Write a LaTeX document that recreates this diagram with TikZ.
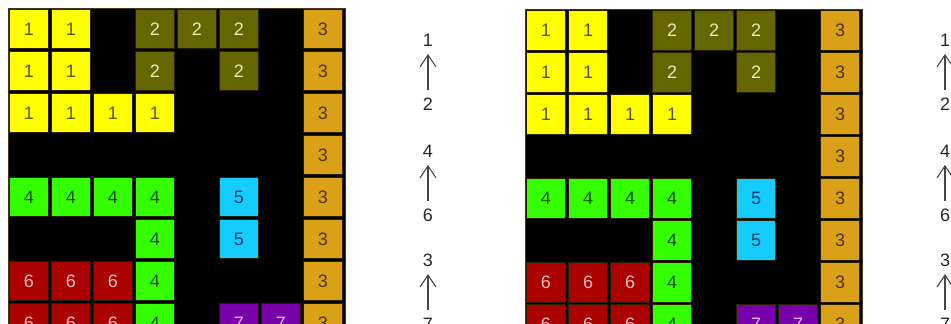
\documentclass[tikz,border=0pt]{standalone}
\usepackage{fontspec}
\setmainfont{Liberation Sans}
\usepackage{xcolor}
\usetikzlibrary{arrows.meta, positioning}
\definecolor{fillA}{RGB}{255,255,0}
\definecolor{textA}{RGB}{85,85,0}
\definecolor{fillB}{RGB}{102,102,0}
\definecolor{textB}{RGB}{235,235,190}
\definecolor{fillC}{RGB}{218,160,24}
\definecolor{textC}{RGB}{80,50,0}
\definecolor{fillD}{RGB}{51,255,0}
\definecolor{textD}{RGB}{15,80,0}
\definecolor{fillE}{RGB}{20,204,255}
\definecolor{textE}{RGB}{15,60,100}
\definecolor{fillF}{RGB}{170,0,0}
\definecolor{textF}{RGB}{255,190,190}
\definecolor{fillG}{RGB}{119,0,170}
\definecolor{textG}{RGB}{220,190,255}
\definecolor{cellline}{RGB}{40,30,0}
\definecolor{boardline}{RGB}{70,55,15}
\definecolor{movegray}{RGB}{70,70,70}
\definecolor{movetext}{RGB}{40,40,40}
\tikzset{
  cell/.style = {rectangle, draw=cellline, line width=0.8pt, minimum size=39.5pt, inner sep=0pt, font=\fontsize{18}{20}\selectfont},
  piece1/.style = {cell, fill=fillA, text=textA},
  piece2/.style = {cell, fill=fillB, text=textB},
  piece3/.style = {cell, fill=fillC, text=textC},
  piece4/.style = {cell, fill=fillD, text=textD},
  piece5/.style = {cell, fill=fillE, text=textE},
  piece6/.style = {cell, fill=fillF, text=textF},
  piece7/.style = {cell, fill=fillG, text=textG},
  board/.style = {draw=boardline, line width=1pt, fill=black},
  num/.style = {inner xsep=2pt, inner ysep=7.5pt, text=movetext, font=\fontsize{18}{20}\selectfont},
  arrow/.style = {-{Straight Barb[length=12pt, width=16pt]}, line width=1.1pt, draw=movegray}
}
\begin{document}
\begin{tikzpicture}[x=1pt, y=-1pt, node distance=36pt]
\useasboundingbox (0,0) rectangle (951,324);

\foreach \g/\dx/\dy in {L/0/0, R/517/1.5} {
  % board
  \draw[board] (8+\dx, 8+\dy) rectangle (345+\dx, 350+\dy);
  \foreach \r/\c/\p in {1/1/1, 1/2/1, 2/1/1, 2/2/1, 3/1/1, 3/2/1, 3/3/1, 3/4/1,
                        1/4/2, 1/5/2, 1/6/2, 2/4/2, 2/6/2,
                        1/8/3, 2/8/3, 3/8/3, 4/8/3, 5/8/3, 6/8/3, 7/8/3, 8/8/3,
                        5/1/4, 5/2/4, 5/3/4, 5/4/4, 6/4/4, 7/4/4, 8/4/4,
                        5/6/5, 6/6/5,
                        7/1/6, 7/2/6, 7/3/6, 8/1/6, 8/2/6, 8/3/6,
                        8/6/7, 8/7/7} {
    \node[piece\p] (\g-\r-\c) at ({29+(\c-1)*42+\dx}, {29+(\r-1)*42+\dy}) {\p};
  }
  % moves
  \node[num] (\g-t1) at (428+\dx, 40) {1};
  \node[num, below=of \g-t1] (\g-b1) {2};
  \node[num] (\g-t2) at (428+\dx, 151) {4};
  \node[num, below=of \g-t2] (\g-b2) {6};
  \node[num] (\g-t3) at (428+\dx, 260) {3};
  \node[num, below=of \g-t3] (\g-b3) {7};

  \draw[arrow] (\g-b1) -- (\g-t1);
  \draw[arrow] (\g-b2) -- (\g-t2);
  \draw[arrow] (\g-b3) -- (\g-t3);
}
\end{tikzpicture}
\end{document}
